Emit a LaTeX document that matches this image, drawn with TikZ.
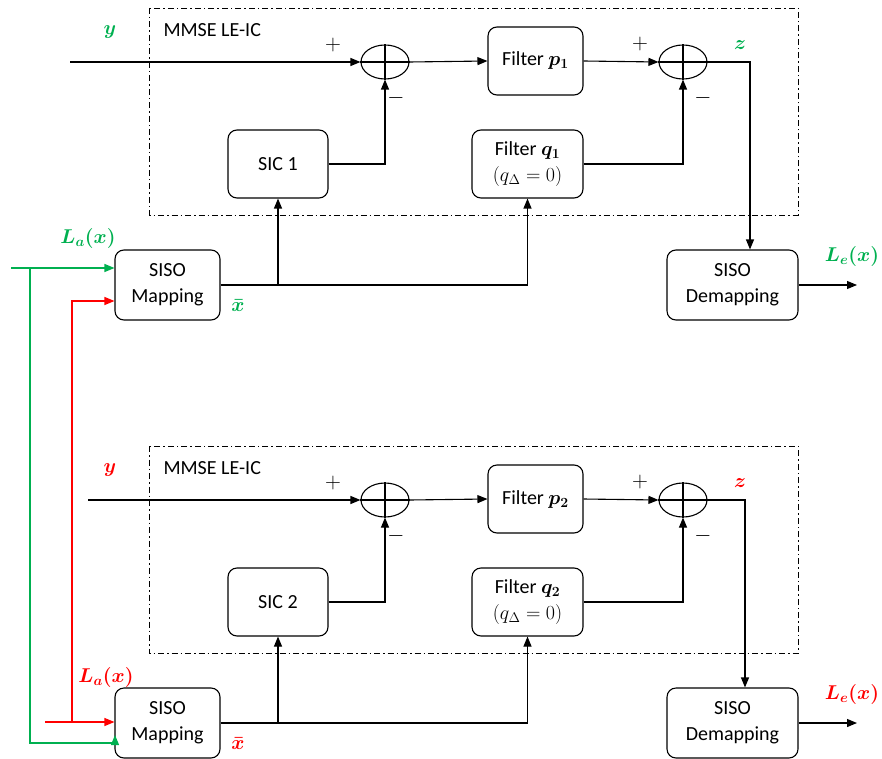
\RequirePackage{fix-cm}
\documentclass[tikz,border=0pt]{standalone}
\usepackage{amsmath}
\usepackage{fontspec}
\setmainfont{Carlito}
\usetikzlibrary{arrows.meta,shapes.geometric}

\definecolor{lgreen}{RGB}{0,176,80}
\definecolor{lred}{RGB}{255,0,0}

\tikzset{
  blk/.style={draw, rounded corners=9pt, line width=1.1pt, align=center,
    inner sep=2pt, font=\fontsize{20}{26}\selectfont},
  sumnode/.style={draw, ellipse, line width=1.1pt, minimum width=48pt,
    minimum height=34pt, inner sep=0pt},
  lnk/.style={line width=1.1pt},
  arr/.style={lnk, -{Triangle[length=10pt,width=8pt]}},
  icbox/.style={line width=0.9pt, dash pattern=on 6pt off 3pt on 1.5pt off 3pt},
  lbl/.style={font=\fontsize{20}{24}\selectfont},
  sign/.style={font=\fontsize{22}{26}\selectfont},
}

\begin{document}
\begin{tikzpicture}[x=1pt,y=-1pt]

    \useasboundingbox (0,0) rectangle (882,759);

    % two detector branches
    \foreach \n/\dy/\col/\ys/\zx in {1/0/lgreen/70/750, 2/438/lred/88/745} {
      \begin{scope}[shift={(0,\dy)}]
        % equaliser frame
        \draw[icbox] (149,8) rectangle (798,215);
        \node[lbl, anchor=west] (eqname\n) at (160,30) {MMSE LE-IC};

        % blocks
        \node[sumnode] (sumA\n) at (385,62) {};
        \node[sumnode] (sumB\n) at (683,62) {};
        \draw[lnk] (sumA\n.north) -- (sumA\n.south) (sumA\n.west) -- (sumA\n.east);
        \draw[lnk] (sumB\n.north) -- (sumB\n.south) (sumB\n.west) -- (sumB\n.east);
        \node[blk, minimum width=95pt, minimum height=68pt] (fp\n) at (535.5,61)
          {Filter $\boldsymbol{p_\n}$};
        \node[blk, minimum width=100pt, minimum height=68pt] (sic\n) at (278,164)
          {SIC \n};
        \node[blk, minimum width=111pt, minimum height=68pt] (fq\n) at (527.5,164)
          {Filter $\boldsymbol{q_\n}$\\$(q_\Delta = 0)$};
        \node[blk, minimum width=105pt, minimum height=70pt] (map\n) at (167.5,285)
          {SISO\\Mapping};
        \node[blk, minimum width=131pt, minimum height=70pt] (dem\n) at (732.5,285)
          {SISO\\Demapping};

        % connectors
        \coordinate (yin\n) at (\ys,62);
        \coordinate (zc\n) at (\zx,62);
        \coordinate (le\n) at (857,285);
        \draw[arr] (yin\n) -- (sumA\n.west);
        \draw[arr] (sumA\n.east) -- (fp\n.west);
        \draw[arr] (fp\n.east) -- (sumB\n.west);
        \draw[arr] (sumB\n.east) -- (zc\n) -- (zc\n |- dem\n.north);
        \draw[arr] (sic\n.east) -| (sumA\n.south);
        \draw[arr] (fq\n.east) -| (sumB\n.south);
        \draw[lnk] (map\n.east) -- (fq\n.south |- map\n.east);
        \draw[arr] (sic\n.south |- map\n.east) -- (sic\n.south);
        \draw[arr] (fq\n.south |- map\n.east) -- (fq\n.south);
        \draw[arr] (dem\n.east) -- (le\n);

        % signs and labels
        \node[sign] (pa\n) at (333,45) {$+$};
        \node[sign] (pb\n) at (640,44) {$+$};
        \node[sign] (ma\n) at (396,98) {$-$};
        \node[sign] (mb\n) at (703,98) {$-$};
        \node[lbl, text=\col] (ylab\n) at (110,32) {$\boldsymbol{y}$};
        \node[lbl, text=\col] (zlab\n) at (740,45) {$\boldsymbol{z}$};
        \node[lbl, text=\col] (xlab\n) at (238,306) {$\boldsymbol{\bar{x}}$};
        \node[lbl, text=\col] (lelab\n) at (852,256) {$\boldsymbol{L_e(x)}$};
      \end{scope}
    }

    % a priori inputs
    \node[lbl, text=lgreen] (lagreen) at (88,238) {$\boldsymbol{L_a(x)}$};
    \node[lbl, text=lred] (lared) at (106,677) {$\boldsymbol{L_a(x)}$};

    \coordinate (gin) at (11,268);
    \coordinate (gsplit) at (30,268);
    \coordinate (gbot) at (30,743);
    \coordinate (gend) at (115,743);
    \coordinate (gtip) at (115,735);
    \draw[arr, lgreen] (gin) -- (gin -| map1.west);
    \draw[arr, lgreen] (gsplit) -- (gbot) -- (gend) -- (gtip);

    \coordinate (rin) at (45,722);
    \coordinate (rsplit) at (72,722);
    \coordinate (rtop) at (72,301);
    \draw[arr, lred] (rin) -- (rin -| map2.west);
    \draw[arr, lred] (rsplit) -- (rtop) -- (rtop -| map1.west);

\end{tikzpicture}
\end{document}
